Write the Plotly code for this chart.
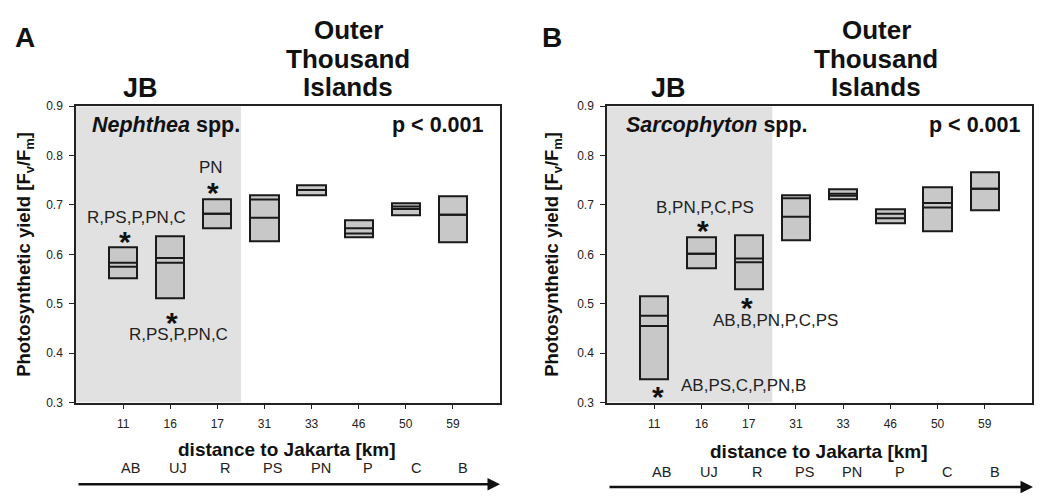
import plotly.graph_objects as go

# ---------------- data ----------------
distances = ["11", "16", "17", "31", "33", "46", "50", "59"]
sites = ["AB", "UJ", "R", "PS", "PN", "P", "C", "B"]

neph_q1 = [0.552, 0.512, 0.653, 0.627, 0.719, 0.634, 0.680, 0.625]
neph_q3 = [0.615, 0.636, 0.712, 0.719, 0.741, 0.670, 0.703, 0.718]
neph_median = [0.583, 0.5925, 0.682, 0.711, 0.730, 0.653, 0.697, 0.680]
neph_mean = [0.575, 0.583, 0.682, 0.674, 0.730, 0.642, 0.692, 0.680]

sarc_q1 = [0.3465, 0.572, 0.5286, 0.629, 0.711, 0.6635, 0.6465, 0.690]
sarc_q3 = [0.516, 0.634, 0.638, 0.7205, 0.731, 0.692, 0.7356, 0.766]
sarc_median = [0.4755, 0.601, 0.5915, 0.7133, 0.7225, 0.682, 0.704, 0.733]
sarc_mean = [0.455, 0.601, 0.584, 0.676, 0.7185, 0.673, 0.695, 0.733]

# significance annotations: (text, x position index, y value)
neph_sig = [("R,PS,P,PN,C", 0.28, 0.674), ("R,PS,P,PN,C", 1.17, 0.437), ("PN", 1.87, 0.776)]
neph_star = [(0.04, 0.640), (1.04, 0.477), (1.9, 0.739)]
sarc_sig = [("B,PN,P,C,PS", 1.08, 0.694), ("AB,B,PN,P,C,PS", 2.56, 0.467), ("AB,PS,C,P,PN,B", 1.88, 0.335)]
sarc_star = [(1.04, 0.663), (1.97, 0.506), (0.08, 0.326)]

region_lines = ["Outer", "Thousand", "Islands"]

FONT = "Arial, Liberation Sans, sans-serif"
BOXW = 0.6
W, H = 1041, 498

fig = go.Figure()
idx = list(range(len(distances)))


def add_panel(q1, q3, med, mean, xa, ya):
    fig.add_trace(go.Bar(
        x=idx, y=[b - a for a, b in zip(q1, q3)], base=q1, width=BOXW,
        marker=dict(color="#c8c8c8", line=dict(color="#1a1a1a", width=2)),
        xaxis=xa, yaxis=ya, showlegend=False, hoverinfo="skip"))
    xs, ys = [], []
    for i in idx:
        for v in (med[i], mean[i]):
            xs += [i - BOXW / 2, i + BOXW / 2, None]
            ys += [v, v, None]
    fig.add_trace(go.Scatter(x=xs, y=ys, mode="lines",
                             line=dict(color="#1a1a1a", width=2),
                             xaxis=xa, yaxis=ya, showlegend=False, hoverinfo="skip"))


add_panel(neph_q1, neph_q3, neph_median, neph_mean, "x", "y")
add_panel(sarc_q1, sarc_q3, sarc_median, sarc_mean, "x2", "y2")

dom1 = [76 / W, 500 / W]
dom2 = [607 / W, 1032 / W]
ydom = [1 - 407 / H, 1 - 102 / H]

xax = dict(range=[-1, 8], tickvals=idx, ticktext=distances, ticks="outside", ticklen=5,
           tickcolor="#222", showline=True, linecolor="#222", linewidth=1.5, mirror=True,
           showgrid=False, zeroline=False, ticklabelstandoff=4,
           tickfont=dict(size=12, color="#222", family=FONT))
yax = dict(range=[0.3, 0.9], dtick=0.1, tickformat=".1f", ticks="outside", ticklen=5,
           tickcolor="#222", showline=True, linecolor="#222", linewidth=1.5, mirror=True,
           showgrid=False, zeroline=False, ticklabelstandoff=4,
           tickfont=dict(size=12, color="#222", family=FONT), domain=ydom)

fig.update_layout(
    width=W, height=H, autosize=False, margin=dict(l=0, r=0, t=0, b=0),
    paper_bgcolor="white", plot_bgcolor="white", bargap=0,
    font=dict(family=FONT, color="#111"),
    xaxis=dict(xax, domain=dom1, anchor="y"),
    yaxis=dict(yax, anchor="x"),
    xaxis2=dict(xax, domain=dom2, anchor="y2"),
    yaxis2=dict(yax, anchor="x2"),
)

# JB shaded region
for xr, yr in (("x", "y"), ("x2", "y2")):
    fig.add_shape(type="rect", xref=xr, yref=yr, x0=-1, x1=2.5, y0=0.3, y1=0.9,
                  fillcolor="#e1e1e1", line=dict(width=0), layer="below")

ann = []


def t(text, x, y, size, xref="paper", yref="paper", bold=False, xanchor="center",
      yanchor="middle", textangle=0, yshift=0, color="#111"):
    ann.append(dict(text=f"<b>{text}</b>" if bold else text, x=x, y=y, xref=xref, yref=yref,
                    showarrow=False, xanchor=xanchor, yanchor=yanchor, textangle=textangle,
                    yshift=yshift, font=dict(size=size, family=FONT, color=color)))


# panel letters and region labels
t("A", 25 / W, 1 - 31 / H, 28, bold=True)
t("B", 552 / W, 1 - 31 / H, 28, bold=True)
for cx_jb, cx_out in ((140, 348), (668, 876)):
    t("JB", cx_jb / W, 1 - 83 / H, 27, bold=True)
    for line, cy in zip(region_lines, (24, 53, 82)):
        t(line, cx_out / W, 1 - cy / H, 26, bold=True)

# y axis titles
for cx in (25, 553):
    t("Photosynthetic yield [F<sub>v</sub>/F<sub>m</sub>]", cx / W, 1 - 255 / H, 18.5,
      bold=True, textangle=-90)

# in-panel titles
t("<b><i>Nephthea</i> spp.</b>", 0.033, 0.935, 21.5, xref="x domain", yref="y domain", xanchor="left")
t("p < 0.001", 0.965, 0.935, 21.5, xref="x domain", yref="y domain", bold=True, xanchor="right")
t("<b><i>Sarcophyton</i> spp.</b>", 0.04, 0.935, 21.5, xref="x2 domain", yref="y2 domain", xanchor="left")
t("p < 0.001", 0.976, 0.935, 21.5, xref="x2 domain", yref="y2 domain", bold=True, xanchor="right")

# significance labels
for (txt, x, y) in neph_sig:
    t(txt, x, y, 17, xref="x", yref="y", color="#222")
for (x, y) in neph_star:
    t("*", x, y, 30, xref="x", yref="y", bold=True, yshift=-7)
for (txt, x, y) in sarc_sig:
    t(txt, x, y, 17, xref="x2", yref="y2", color="#222")
for (x, y) in sarc_star:
    t("*", x, y, 30, xref="x2", yref="y2", bold=True, yshift=-7)

# x titles and site labels
t("distance to Jakarta [km]", 287 / W, 1 - 455 / H, 19, bold=True)
t("distance to Jakarta [km]", 819 / W, 1 - 457 / H, 19, bold=True)
for i, s in enumerate(sites):
    t(s, i * 1.01 + 0.15, 1 - 474 / H, 14.5, xref="x", yref="paper", color="#222")
    t(s, i * 1.01 + 0.15, 1 - 478 / H, 14.5, xref="x2", yref="paper", color="#222")

# arrows
for x0, x1, y in ((77, 500, 491), (608, 1033, 494)):
    ann.append(dict(text="", x=x1 / W, y=1 - y / H, ax=x0 - x1, ay=0,
                    xref="paper", yref="paper", axref="pixel", ayref="pixel",
                    showarrow=True, arrowhead=2, arrowsize=1, arrowwidth=2.5, arrowcolor="#111"))

fig.update_layout(annotations=ann)
fig.write_html("out.html",
               config={"displayModeBar": False, "responsive": False},
               post_script="document.body.style.margin='0px';document.body.style.overflow='hidden';")
